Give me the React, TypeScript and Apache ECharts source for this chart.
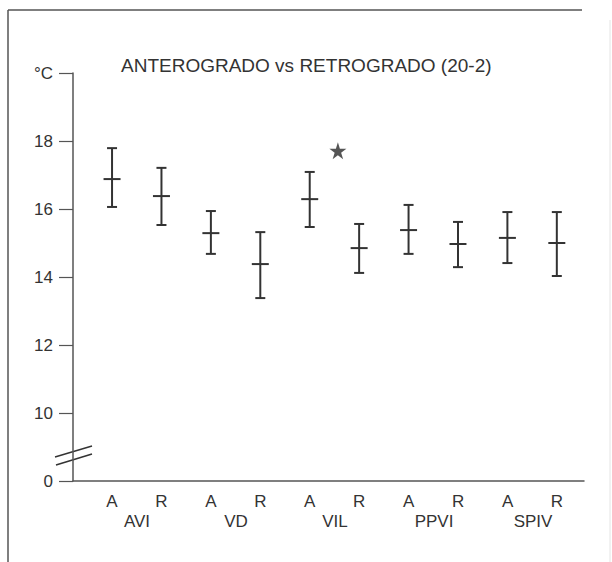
import React, { useEffect, useRef } from "react";
import * as echarts from "echarts";

const barLabels = ["A", "R", "A", "R", "A", "R", "A", "R", "A", "R"];
const groups = ["AVI", "VD", "VIL", "PPVI", "SPIV"];
const positions = [1, 2, 3, 4, 5, 6, 7, 8, 9, 10];
const lows = [16.06, 15.53, 14.68, 13.38, 15.47, 14.12, 14.68, 14.29, 14.41, 14.03];
const means = [16.88, 16.38, 15.29, 14.38, 16.29, 14.85, 15.38, 14.97, 15.15, 15.0];
const highs = [17.79, 17.21, 15.94, 15.32, 17.09, 15.56, 16.12, 15.62, 15.91, 15.91];
const starPoint = [5.57, 17.71];
const yTicks = [8, 10, 12, 14, 16, 18, 20];
const yTickLabels = ["0", "10", "12", "14", "16", "18", "°C"];

const INK = "#333";
const AXIS = "#555";
const FONT = "Liberation Sans, Arial, Helvetica, sans-serif";

export default function App() {
  const ref = useRef<HTMLDivElement>(null);
  useEffect(() => {
    if (!ref.current) return;
    const chart = echarts.init(ref.current, null, { renderer: "svg" });
    const errData = positions.map((p, i) => [p, lows[i], means[i], highs[i]]);
    const option: any = {
      animation: false,
      backgroundColor: "#fff",
      title: {
        text: "ANTEROGRADO vs RETROGRADO (20-2)",
        left: 116,
        top: 51,
        textStyle: { fontSize: 19, fontWeight: "normal", color: INK, fontFamily: FONT },
      },
      grid: [
        { left: 73, top: 73, width: 511, height: 408 },
        { left: 112, top: 73, width: 445, height: 408 },
        { left: 87.5, top: 73, width: 495, height: 408 },
      ],
      xAxis: [
        {
          gridIndex: 0,
          type: "value",
          min: 0.21,
          max: 10.55,
          axisLine: { show: true, lineStyle: { color: AXIS, width: 1.5 } },
          axisTick: { show: false },
          axisLabel: { show: false },
          splitLine: { show: false },
        },
        {
          gridIndex: 1,
          type: "category",
          boundaryGap: false,
          data: barLabels,
          axisLine: { show: false },
          axisTick: { show: false },
          axisLabel: { margin: 12, fontSize: 17, color: INK, fontFamily: FONT },
        },
        {
          gridIndex: 2,
          type: "category",
          boundaryGap: true,
          data: groups,
          axisLine: { show: false },
          axisTick: { show: false },
          axisLabel: { margin: 32, fontSize: 17, color: INK, fontFamily: FONT },
        },
      ],
      yAxis: [
        {
          gridIndex: 0,
          type: "value",
          min: 8,
          max: 20,
          interval: 2,
          axisLine: { show: true, lineStyle: { color: AXIS, width: 1.5 } },
          axisTick: { show: true, length: 14, lineStyle: { color: AXIS, width: 1.2 } },
          axisLabel: {
            margin: 20,
            fontSize: 17,
            color: INK,
            fontFamily: FONT,
            formatter: (v: number) => {
              const k = yTicks.indexOf(v);
              return k >= 0 ? yTickLabels[k] : "";
            },
          },
          splitLine: { show: false },
        },
        { gridIndex: 1, type: "value", show: false },
        { gridIndex: 2, type: "value", show: false },
      ],
      series: [
        {
          type: "custom",
          xAxisIndex: 0,
          yAxisIndex: 0,
          data: errData,
          encode: { x: 0, y: [1, 2, 3] },
          renderItem: (params: any, api: any) => {
            const x = api.value(0);
            const lo = api.coord([x, api.value(1)]);
            const mid = api.coord([x, api.value(2)]);
            const hi = api.coord([x, api.value(3)]);
            const style = { stroke: INK, lineWidth: 2, fill: "none" };
            const cap = 5;
            const mw = 8.5;
            return {
              type: "group",
              children: [
                { type: "line", shape: { x1: lo[0], y1: lo[1], x2: hi[0], y2: hi[1] }, style },
                { type: "line", shape: { x1: hi[0] - cap, y1: hi[1], x2: hi[0] + cap, y2: hi[1] }, style },
                { type: "line", shape: { x1: lo[0] - cap, y1: lo[1], x2: lo[0] + cap, y2: lo[1] }, style },
                { type: "line", shape: { x1: mid[0] - mw, y1: mid[1], x2: mid[0] + mw, y2: mid[1] }, style },
              ],
            };
          },
        },
        {
          type: "scatter",
          xAxisIndex: 0,
          yAxisIndex: 0,
          data: [starPoint],
          symbol:
            "path://M50,0 L61.8,36.2 L100,36.2 L69.1,58.8 L80.9,95.1 L50,72.7 L19.1,95.1 L30.9,58.8 L0,36.2 L38.2,36.2 Z",
          symbolSize: 17,
          itemStyle: { color: "#2a2a2a" },
        },
      ],
      graphic: [
        { type: "line", shape: { x1: 8, y1: 10, x2: 8, y2: 562 }, style: { stroke: "#555", lineWidth: 1.5 } },
        { type: "line", shape: { x1: 8, y1: 10, x2: 582, y2: 10 }, style: { stroke: "#555", lineWidth: 1.5 } },
        { type: "line", shape: { x1: 610, y1: 20, x2: 610, y2: 562 }, style: { stroke: "#e4e4e4", lineWidth: 1 } },
        { type: "line", shape: { x1: 55, y1: 457, x2: 92, y2: 446 }, style: { stroke: "#333", lineWidth: 1.5 } },
        { type: "line", shape: { x1: 56, y1: 465, x2: 92, y2: 454 }, style: { stroke: "#333", lineWidth: 1.5 } },
      ],
    };
    chart.setOption(option);
    return () => chart.dispose();
  }, []);
  return (
    <div
      ref={ref}
      style={{ position: "fixed", left: 0, top: 0, width: 612, height: 562, background: "#fff" }}
    />
  );
}
